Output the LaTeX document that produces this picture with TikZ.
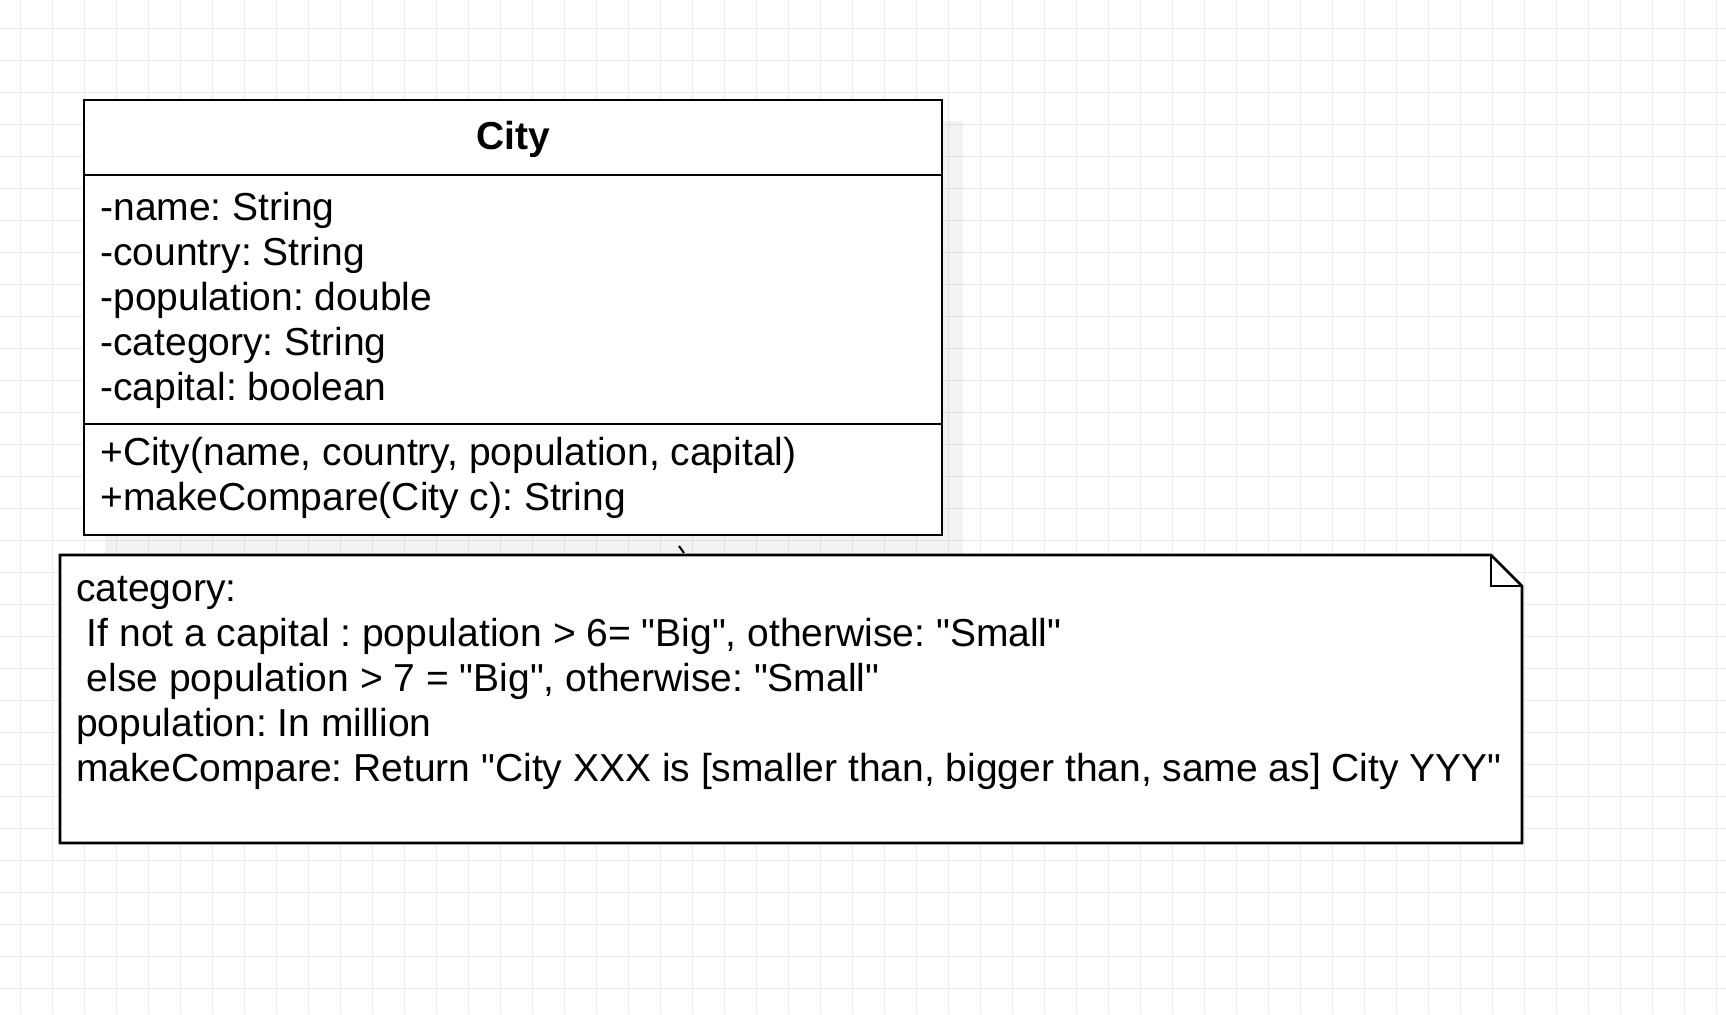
\documentclass[tikz,border=0pt]{standalone}
\usepackage{fontspec}
\setmainfont{Liberation Sans}
\definecolor{gridgray}{HTML}{EDEDED}
\newcommand\dq{\XeTeXglyph\XeTeXcharglyph"22\relax}
\tikzset{
  umlline/.style={line width=1.4pt, black},
  txt/.style={anchor=base west, inner sep=0pt, font=\fontsize{19.5}{22.5}\selectfont\frenchspacing},
  ttl/.style={anchor=base, inner sep=0pt, font=\fontsize{19.5}{22.5}\selectfont\bfseries}
}
\begin{document}
\begin{tikzpicture}[x=0.5pt, y=-0.5pt]
  \useasboundingbox (0, 0) rectangle (1726, 1014);
  % grid
  \foreach \gx in {0,...,53} \draw [gridgray, line width=0.5pt] (20.7+32*\gx, 0) -- (20.7+32*\gx, 1014);
  \foreach \gy in {0,...,30} \draw [gridgray, line width=0.5pt] (0, 28.3+32*\gy) -- (1726, 28.3+32*\gy);
  % class City
  \fill [black, opacity=0.05] (105, 121) rectangle (963, 556);
  \draw [umlline, fill=white] (84, 100) rectangle (942, 535);
  \draw [umlline] (84, 175) -- (942, 175);
  \draw [umlline] (84, 424) -- (942, 424);
  \node [ttl] (cityname) at (513, 149) {City};
  \node [txt] (attrname) at (100, 220) {-name: String};
  \node [txt] (attrcountry) at (100, 265) {-country: String};
  \node [txt] (attrpop) at (100, 310) {-population: double};
  \node [txt] (attrcat) at (100, 355) {-category: String};
  \node [txt] (attrcap) at (100, 400) {-capital: boolean};
  \node [txt] (opcity) at (100, 465.7) {+City(name, country, population, capital)};
  \node [txt] (opcompare) at (100, 510.7) {+makeCompare(City c): String};
  % leftover of the note link
  \coordinate (tickA) at (679, 546);
  \coordinate (tickB) at (684, 553);
  \draw [line width=1pt] (tickA) -- (tickB);
  % note
  \draw [umlline, fill=white] (60, 555) -- (1491, 555) -- (1522, 586) -- (1522, 843) -- (60, 843) -- cycle;
  \draw [umlline] (1491, 555) -- (1491, 586) -- (1522, 586);
  \node [txt] (notecat) at (75.7, 601.7) {category:};
  \node [txt] (noteif) at (75.7, 646.7) {\ If not a capital : population > 6= \dq Big\dq, otherwise: \dq Small\dq};
  \node [txt] (noteelse) at (75.7, 691.7) {\ else population > 7 = \dq Big\dq, otherwise: \dq Small\dq};
  \node [txt] (notepop) at (75.7, 736.7) {population: In million};
  \node [txt] (notecmp) at (75.7, 781.7) {makeCompare: Return \dq City XXX is [smaller than, bigger than, same as] City YYY\dq};
\end{tikzpicture}
\end{document}
